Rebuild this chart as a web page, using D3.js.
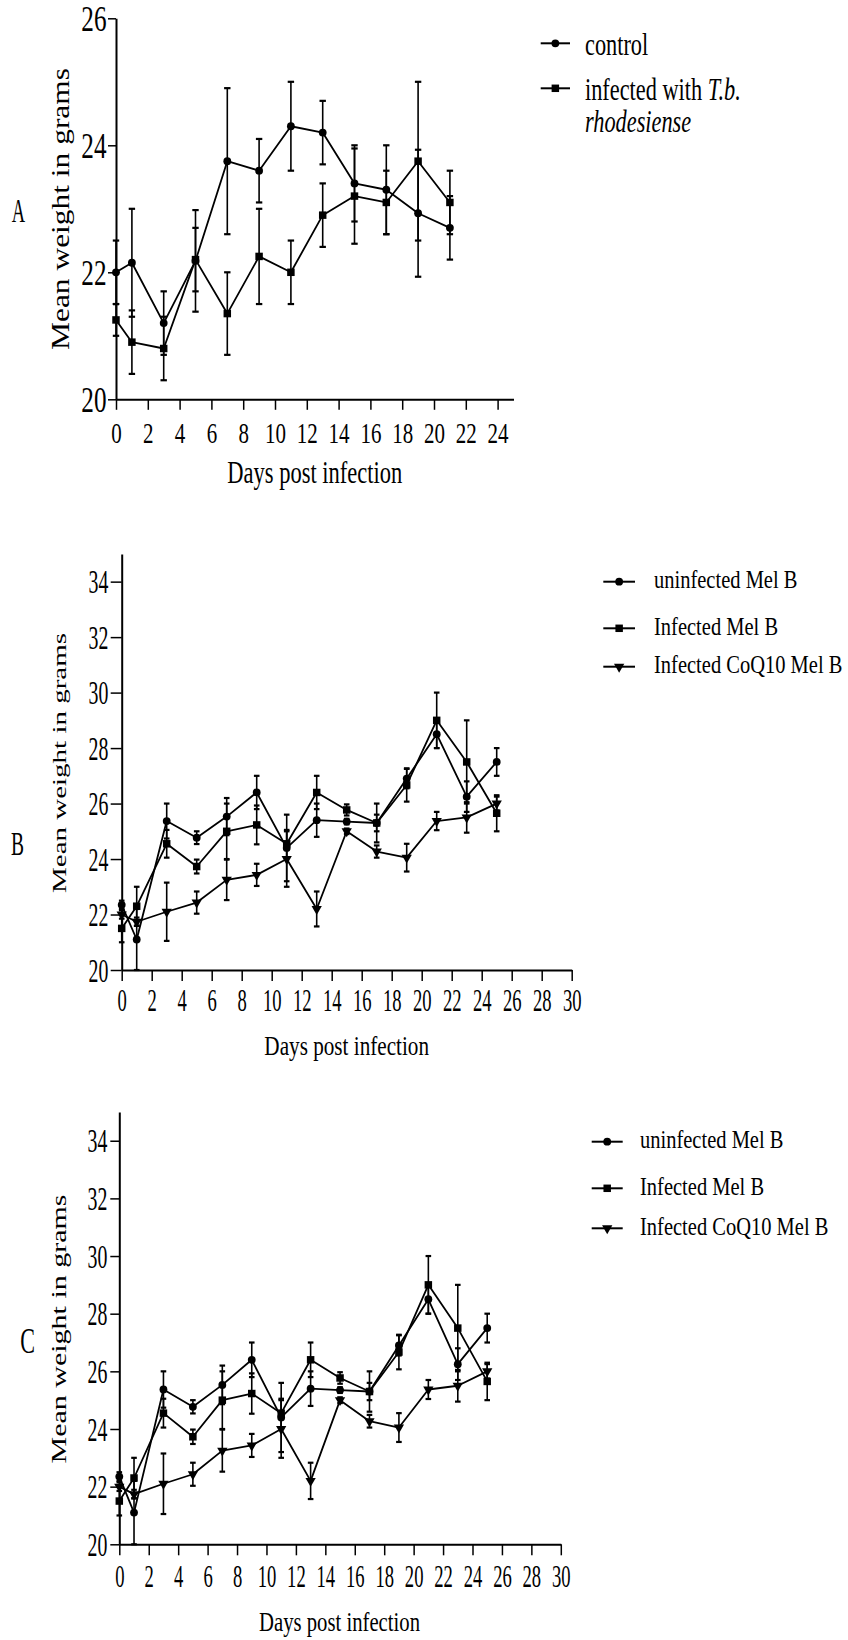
<!DOCTYPE html>
<html>
<head>
<meta charset="utf-8">
<script src="https://cdn.jsdelivr.net/npm/d3@7"></script>
<style>
  html, body { margin: 0; padding: 0; background: #fff; }
  svg { display: block; }
</style>
</head>
<body>
<script>
// ----------------------------
// Data
// ----------------------------
const daysA = [0, 1, 3, 5, 7, 9, 11, 13, 15, 17, 19, 21];
const controlMean = [22.0, 22.15, 21.2, 22.18, 23.75, 23.6, 24.3, 24.2, 23.4, 23.3, 22.93, 22.7];
const controlErr = [0.5, 0.85, 0.5, 0.8, 1.15, 0.5, 0.7, 0.5, 0.6, 0.7, 1.0, 0.5];
const infectedTbMean = [21.25, 20.9, 20.8, 22.2, 21.35, 22.25, 22.0, 22.9, 23.2, 23.1, 23.75, 23.1];
const infectedTbErr = [0.25, 0.5, 0.5, 0.5, 0.65, 0.75, 0.5, 0.5, 0.75, 0.5, 1.25, 0.5];

const daysB = [0, 1, 3, 5, 7, 9, 11, 13, 15, 17, 19, 21, 23, 25];
const uninfMelB = [22.35, 21.1, 25.37, 24.77, 25.53, 26.4, 24.4, 25.4, 25.35, 25.3, 26.9, 28.5, 26.25, 27.5];
const uninfMelBErr = [0.15, 1.1, 0.63, 0.23, 0.67, 0.6, 1.2, 0.6, 0.1, 0.3, 0.35, 0.5, 0.55, 0.5];
const infMelB = [21.5, 22.3, 24.55, 23.73, 25.0, 25.23, 24.55, 26.4, 25.77, 25.3, 26.67, 29.0, 27.5, 25.65];
const infMelBErr = [0.5, 0.7, 0.5, 0.25, 1.0, 0.7, 0.5, 0.6, 0.2, 0.7, 0.6, 1.0, 1.5, 0.65];
const coq10MelB = [22.0, 21.74, 22.1, 22.43, 23.25, 23.43, 24.0, 22.2, 25.0, 24.27, 24.05, 25.37, 25.5, 26.0];
const coq10MelBErr = [0.15, 0.15, 1.05, 0.4, 0.73, 0.4, 1.0, 0.63, 0.1, 0.22, 0.5, 0.33, 0.55, 0.25];

const xTicksA = d3.range(0, 25, 2);
const yTicksA = [20, 22, 24, 26];
const xTicksB = d3.range(0, 31, 2);
const yTicksB = d3.range(20, 35, 2);

const legendA = ['control', 'infected with T.b. rhodesiense'];
const legendB = ['uninfected Mel B', 'Infected Mel B', 'Infected CoQ10 Mel B'];

const yTitle = 'Mean weight in grams';
const xTitle = 'Days post infection';

const SERIF = '"Liberation Serif", "Times New Roman", serif';

const svg = d3.select('body').append('svg')
  .attr('width', 848)
  .attr('height', 1640);

// ----------------------------
// Markers
// ----------------------------
const markerPath = {
  circle: d3.symbol().type(d3.symbolCircle).size(48)(),
  square: d3.symbol().type(d3.symbolSquare).size(56)(),
  triangle: d3.symbol().type(d3.symbolTriangle).size(46)()
};

function drawMarker(sel, kind) {
  return sel.append('path')
    .attr('d', markerPath[kind])
    .attr('fill', '#000')
    .attr('transform', kind === 'triangle' ? 'rotate(180)' : null);
}

function series(days, mean, err, marker) {
  return { marker, pts: days.map((d, i) => ({ day: d, v: mean[i], e: err[i] })) };
}

function squeezedText(parent, x, y, fs, sx, anchor) {
  return parent.append('text')
    .attr('transform', `translate(${x},${y}) scale(${sx},1)`)
    .attr('font-family', SERIF)
    .attr('font-size', fs)
    .attr('text-anchor', anchor)
    .attr('fill', '#000');
}

// ----------------------------
// Panel
// ----------------------------
function drawPanel(p) {
  const g = svg.append('g');
  const x = d3.scaleLinear().domain(p.xDomain).range(p.xRange);
  const y = d3.scaleLinear().domain(p.yDomain).range(p.yRange);

  // x axis
  const xAxis = g.append('g')
    .attr('transform', `translate(0,${p.yRange[0]})`)
    .call(d3.axisBottom(x).tickValues(p.xTicks).tickSize(p.xTickLen).tickSizeOuter(0).tickFormat(d3.format('d')));
  xAxis.select('.domain').attr('stroke', '#000').attr('stroke-width', 2);
  xAxis.selectAll('.tick line').attr('stroke', '#000').attr('stroke-width', 1.5);
  xAxis.selectAll('.tick text')
    .attr('y', null).attr('dy', null)
    .attr('transform', `translate(0,${p.xLabelOffset}) scale(${p.xTickSx},1)`)
    .attr('font-family', SERIF)
    .attr('font-size', p.xTickFs)
    .attr('fill', '#000');

  // y axis
  const yAxis = g.append('g')
    .attr('transform', `translate(${p.xRange[0]},0)`)
    .call(d3.axisLeft(y).tickValues(p.yTicks).tickSize(p.yTickLen).tickSizeOuter(0).tickFormat(d3.format('d')));
  yAxis.select('.domain').attr('stroke', '#000').attr('stroke-width', 2);
  yAxis.selectAll('.tick line').attr('stroke', '#000').attr('stroke-width', 1.5);
  yAxis.selectAll('.tick text')
    .attr('x', null).attr('dy', null)
    .attr('transform', `translate(${-p.yLabelGap},${p.yTickFs * 0.34}) scale(${p.yTickSx},1)`)
    .attr('font-family', SERIF)
    .attr('font-size', p.yTickFs)
    .attr('fill', '#000');

  // titles
  g.append('text')
    .attr('x', p.xTitle.cx).attr('y', p.xTitle.y)
    .attr('font-family', SERIF).attr('font-size', p.xTitle.fs)
    .attr('text-anchor', 'middle')
    .attr('textLength', p.xTitle.len).attr('lengthAdjust', 'spacingAndGlyphs')
    .text(xTitle);

  g.append('text')
    .attr('transform', `translate(${p.yTitle.cx},${p.yTitle.cy}) scale(${p.yTitle.sx},1) rotate(-90)`)
    .attr('dy', '0.35em')
    .attr('font-family', SERIF).attr('font-size', p.yTitle.fs)
    .attr('text-anchor', 'middle')
    .attr('textLength', p.yTitle.len).attr('lengthAdjust', 'spacingAndGlyphs')
    .text(yTitle);

  squeezedText(g, p.letter.cx, p.letter.y, p.letter.fs, p.letter.sx, 'middle').text(p.letter.t);

  // lines
  const line = d3.line().x(d => x(d.day)).y(d => y(d.v));
  p.series.forEach(s => {
    g.append('path')
      .attr('d', line(s.pts))
      .attr('fill', 'none')
      .attr('stroke', '#000')
      .attr('stroke-width', 1.8)
      .attr('stroke-linejoin', 'round');
  });

  // error bars
  p.series.forEach(s => {
    const eb = g.append('g').attr('stroke', '#000');
    s.pts.forEach(d => {
      const cx = x(d.day);
      eb.append('line')
        .attr('x1', cx).attr('x2', cx)
        .attr('y1', y(d.v - d.e)).attr('y2', y(d.v + d.e))
        .attr('stroke-width', 1.6);
      [d.v - d.e, d.v + d.e].forEach(v => {
        eb.append('line')
          .attr('x1', cx - p.capHalf).attr('x2', cx + p.capHalf)
          .attr('y1', y(v)).attr('y2', y(v))
          .attr('stroke-width', 2.2);
      });
    });
  });

  // markers
  p.series.forEach(s => {
    s.pts.forEach(d => {
      const m = g.append('g').attr('transform', `translate(${x(d.day)},${y(d.v)})`);
      drawMarker(m, s.marker);
    });
  });

  // legend
  p.legend.forEach(item => {
    const lg = g.append('g');
    lg.append('line')
      .attr('x1', p.legendX[0]).attr('x2', p.legendX[1])
      .attr('y1', item.y).attr('y2', item.y)
      .attr('stroke', '#000').attr('stroke-width', 2);
    drawMarker(
      lg.append('g').attr('transform', `translate(${(p.legendX[0] + p.legendX[1]) / 2},${item.y})`),
      item.marker
    );
    item.lines.forEach((parts, k) => {
      const t = squeezedText(lg, p.legendTextX, item.y + p.legendBase + k * p.legendLead, p.legendFs, p.legendSx, 'start');
      parts.forEach(part => {
        t.append('tspan')
          .attr('font-style', part.italic ? 'italic' : null)
          .text(part.t);
      });
    });
  });
}

// ----------------------------
// Panel A
// ----------------------------
drawPanel({
  xDomain: [0, 25], xRange: [116, 513.5],
  yDomain: [20, 26], yRange: [399.3, 18.3],
  xTicks: xTicksA, yTicks: yTicksA,
  xTickLen: 10.5, yTickLen: 8,
  xLabelOffset: 44, xTickFs: 30, xTickSx: 0.7,
  yLabelGap: 9.5, yTickFs: 35, yTickSx: 0.72,
  xTitle: { cx: 314.8, y: 483.3, fs: 31, len: 175 },
  yTitle: { cx: 60, cy: 209, fs: 31, len: 282, sx: 0.8 },
  letter: { t: 'A', cx: 18.5, y: 222, fs: 33, sx: 0.56 },
  capHalf: 3.2,
  series: [
    series(daysA, controlMean, controlErr, 'circle'),
    series(daysA, infectedTbMean, infectedTbErr, 'square')
  ],
  legendX: [540.7, 570], legendTextX: 585,
  legendFs: 31, legendSx: 0.72, legendBase: 11.7, legendLead: 31.7,
  legend: [
    { y: 43.3, marker: 'circle', lines: [[{ t: legendA[0] }]] },
    { y: 88.3, marker: 'square', lines: [
      [{ t: 'infected with ' }, { t: 'T.b.', italic: true }],
      [{ t: 'rhodesiense', italic: true }]
    ] }
  ]
});

// ----------------------------
// Panels B and C (same data)
// ----------------------------
function melSeries() {
  return [
    series(daysB, uninfMelB, uninfMelBErr, 'circle'),
    series(daysB, infMelB, infMelBErr, 'square'),
    series(daysB, coq10MelB, coq10MelBErr, 'triangle')
  ];
}

drawPanel({
  xDomain: [0, 30], xRange: [121.7, 571.7],
  yDomain: [20, 35], yRange: [970, 553.9],
  xTicks: xTicksB, yTicks: yTicksB,
  xTickLen: 11, yTickLen: 11,
  xLabelOffset: 41, xTickFs: 31, xTickSx: 0.6,
  yLabelGap: 13.4, yTickFs: 33, yTickSx: 0.6,
  xTitle: { cx: 346.7, y: 1055, fs: 27.7, len: 164.7 },
  yTitle: { cx: 59, cy: 763, fs: 29, len: 260, sx: 0.68 },
  letter: { t: 'B', cx: 17.5, y: 855, fs: 33, sx: 0.59 },
  capHalf: 2.8,
  series: melSeries(),
  legendX: [603.3, 635], legendTextX: 654,
  legendFs: 25, legendSx: 0.82, legendBase: 6.7, legendLead: 0,
  legend: [
    { y: 581.7, marker: 'circle', lines: [[{ t: legendB[0] }]] },
    { y: 628.3, marker: 'square', lines: [[{ t: legendB[1] }]] },
    { y: 666.7, marker: 'triangle', lines: [[{ t: legendB[2] }]] }
  ]
});

drawPanel({
  xDomain: [0, 30], xRange: [119.3, 560.8],
  yDomain: [20, 35], yRange: [1544.3, 1111.9],
  xTicks: xTicksB, yTicks: yTicksB,
  xTickLen: 11, yTickLen: 9,
  xLabelOffset: 42.4, xTickFs: 31, xTickSx: 0.6,
  yLabelGap: 12, yTickFs: 33, yTickSx: 0.6,
  xTitle: { cx: 339.5, y: 1630.6, fs: 28, len: 161 },
  yTitle: { cx: 59, cy: 1329, fs: 30, len: 269, sx: 0.68 },
  letter: { t: 'C', cx: 27.7, y: 1353.4, fs: 35, sx: 0.63 },
  capHalf: 2.8,
  series: melSeries(),
  legendX: [591.7, 622.7], legendTextX: 640,
  legendFs: 25, legendSx: 0.82, legendBase: 6.7, legendLead: 0,
  legend: [
    { y: 1141.7, marker: 'circle', lines: [[{ t: legendB[0] }]] },
    { y: 1188.3, marker: 'square', lines: [[{ t: legendB[1] }]] },
    { y: 1228.3, marker: 'triangle', lines: [[{ t: legendB[2] }]] }
  ]
});
</script>
</body>
</html>
